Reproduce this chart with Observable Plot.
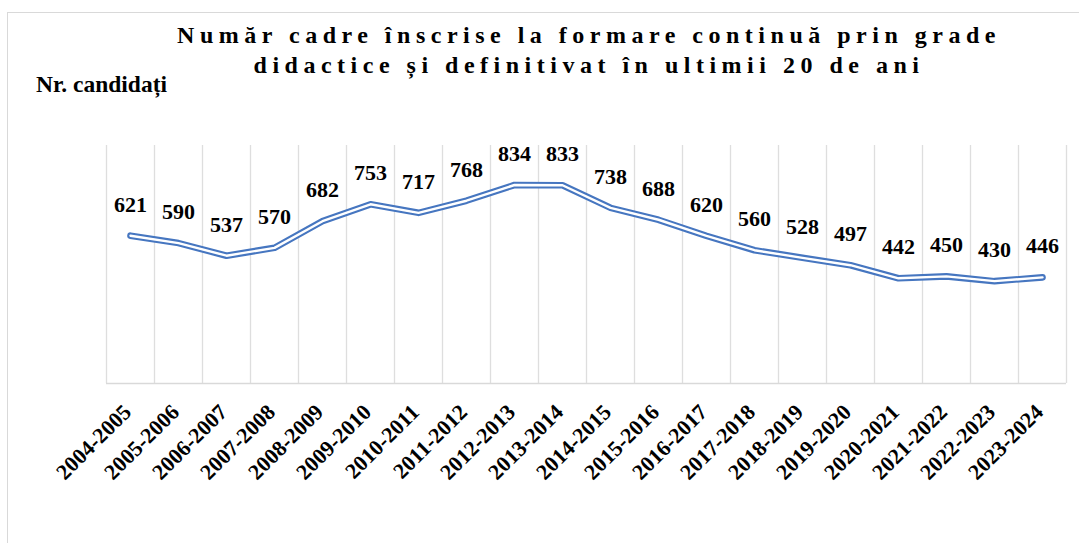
<!DOCTYPE html>
<html>
<head>
<meta charset="utf-8">
<script src="https://cdn.jsdelivr.net/npm/d3@7"></script>
<script src="https://cdn.jsdelivr.net/npm/@observablehq/plot@0.6"></script>
<style>
  html, body { margin: 0; padding: 0; background: #fff; overflow: hidden; }
  #wrap { position: relative; width: 1079px; height: 543px; overflow: hidden; font-family: "Liberation Serif", "Times New Roman", serif; }
  #frame { position: absolute; left: 7px; top: 12px; width: 1200px; height: 700px; border: 1px solid #d9d9d9; box-sizing: border-box; }
  #chart { position: absolute; left: 0; top: 0; }
  #chart svg, #chart svg text { font-family: "Liberation Serif", "Times New Roman", serif; }
  .title { position: absolute; left: 89px; width: 1000px; text-align: center; font-weight: bold; font-size: 24px; letter-spacing: 5.5px; color: #000; white-space: nowrap; line-height: 1; }
  #ylab { position: absolute; left: 36px; top: 73px; font-weight: bold; font-size: 23.5px; color: #000; white-space: nowrap; line-height: 1; }
</style>
</head>
<body>
<div id="wrap">
  <div id="frame"></div>
  <div id="chart"></div>
  <div class="title" style="top:23px">Număr cadre înscrise la formare continuă prin grade</div>
  <div class="title" style="top:53px">didactice și definitivat în ultimii 20 de ani</div>
  <div id="ylab">Nr. candidați</div>
</div>
<script>
// School years shown on the x axis
const years = [
  "2004-2005", "2005-2006", "2006-2007", "2007-2008", "2008-2009",
  "2009-2010", "2010-2011", "2011-2012", "2012-2013", "2013-2014",
  "2014-2015", "2015-2016", "2016-2017", "2017-2018", "2018-2019",
  "2019-2020", "2020-2021", "2021-2022", "2022-2023", "2023-2024"
];
// Number of enrolled candidates per school year
const candidates = [
  621, 590, 537, 570, 682, 753, 717, 768, 834, 833,
  738, 688, 620, 560, 528, 497, 442, 450, 430, 446
];

const data = years.map((year, i) => ({year, value: candidates[i]}));

const W = 1079, H = 543;
const mL = 106, mR = 13, mT = 145, mB = 160;
const band = (W - mL - mR) / years.length;
const blue = "#4676c0";
const serif = "'Liberation Serif', 'Times New Roman', serif";

const chart = Plot.plot({
  width: W,
  height: H,
  marginLeft: mL,
  marginRight: mR,
  marginTop: mT,
  marginBottom: mB,
  style: {background: "transparent", fontFamily: serif},
  x: {type: "band", domain: years, padding: 0},
  y: {domain: [0, 1000], axis: null},
  marks: [
    // vertical gridlines on the category boundaries
    Plot.ruleX(years, {x: d => d, dx: -band / 2, stroke: "#dedede", strokeWidth: 1.3}),
    Plot.ruleX(years.slice(-1), {x: d => d, dx: band / 2, stroke: "#dedede", strokeWidth: 1.3}),
    Plot.ruleY([0], {stroke: "#d9d9d9", strokeWidth: 1.5}),
    Plot.axisX({
      tickSize: 0,
      tickRotate: -45,
      tickPadding: 25,
      dx: -3,
      fontSize: 22,
      fontFamily: serif,
      fontWeight: "bold",
      fill: "#000",
      label: null
    }),
    // double (compound) line: wide blue stroke with a white core
    Plot.lineY(data, {x: "year", y: "value", stroke: blue, strokeWidth: 6.6, strokeLinejoin: "round"}),
    Plot.lineY(data, {x: "year", y: "value", stroke: "#fff", strokeWidth: 2.4, strokeLinejoin: "round"}),
    Plot.text(data, {
      x: "year", y: "value", text: d => String(d.value),
      dy: -31, fontSize: 22, fontFamily: serif, fontWeight: "bold", fill: "#000"
    })
  ]
});

document.getElementById("chart").appendChild(chart);
</script>
</body>
</html>
